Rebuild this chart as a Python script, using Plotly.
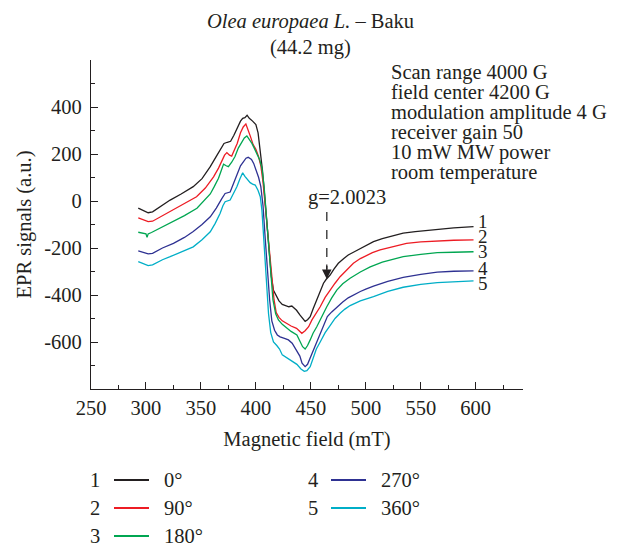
import plotly.graph_objects as go

# EPR spectra of Olea europaea L. (Baku) at 5 sample rotation angles

field_1 = [293, 297, 302, 306, 313, 322, 332, 343, 351, 358.5, 364, 367.5, 371, 374, 377, 380, 383, 386, 388, 390, 392,
           394, 397, 400, 402, 404, 406, 408, 410, 412, 414, 416, 418, 421, 424, 427, 430, 432.7, 435, 437, 440, 443,
           444.8, 447, 449.4, 452, 455.2, 458, 461.5, 464, 467.5, 471, 475, 480, 484, 490, 495, 500, 507, 515, 525,
           534, 545, 555, 565, 580, 598]
epr_1 = [-30, -38, -50, -46, -25, 4, 30, 61, 95, 146, 190, 220, 245, 250, 254, 280, 310, 340, 352, 355, 365,
         352, 340, 325, 290, 220, 130, 20, -100, -220, -320, -380, -400, -425, -440, -446, -450, -447, -455, -465, -485, -500,
         -512, -505, -492, -460, -421, -385, -350, -333, -315, -290, -265, -245, -230, -215, -203, -190, -173, -160, -148,
         -137, -130, -125, -120, -114, -109]

field_2 = [293, 297, 302, 306, 315, 325, 335, 346, 354, 361.5, 366, 369, 371.5, 373.6, 376, 378, 380.5, 383, 386, 388.5,
           390.9, 393, 395, 397.5, 400, 402.4, 404.5, 406.5, 408.5, 410.5, 412.5, 414.5, 416.5, 418.5, 421, 424, 428, 432,
           437, 440, 441.8, 444.8, 448, 451, 455, 458.5, 463, 467.5, 472, 476.6, 481, 485.7, 488.7, 495, 500, 506, 513,
           525, 537, 550, 567.5, 580, 598]
epr_2 = [-72, -80, -88, -86, -62, -38, -10, 18, 55, 103, 140, 167, 195, 206, 195, 191, 215, 245, 290, 315,
         328, 305, 275, 240, 220, 190, 150, 80, -20, -120, -230, -330, -420, -475, -495, -510, -522, -532,
         -542, -555, -563, -552, -535, -506, -478, -450, -410, -379, -350, -322, -300, -279, -265, -245, -232, -220, -208,
         -194, -180, -174, -169, -167, -165]

field_3 = [293, 297, 300, 301, 302, 305, 315, 325, 335, 346.4, 353, 358.5, 362, 366, 368.5, 370.6, 373, 375, 378, 381,
           384, 387, 389.5, 391.8, 394, 396.4, 398.5, 401, 403.5, 405.5, 407.5, 409.5, 411.5, 413.5, 415.5, 418, 420.5,
           424, 428, 432, 437.3, 440, 442.5, 444.8, 447, 449.4, 452, 455.4, 460, 464.5, 469, 473.6, 479, 485.7, 495,
           504, 515, 525, 534, 550, 565, 580, 598]
epr_3 = [-133, -138, -140, -155, -140, -134, -110, -88, -62, -31, 0, 30, 60, 97, 130, 157, 150, 146, 165, 189,
         225, 252, 268, 277, 262, 245, 225, 203, 175, 140, 60, -60, -190, -320, -420, -480, -506,
         -525, -542, -555, -570, -595, -620, -630, -615, -591, -563, -535, -490, -450, -412, -379, -352, -329, -302,
         -280, -260, -247, -237, -227, -220, -218, -216]

field_4 = [293, 297, 302, 306, 315, 325, 335, 343, 351, 358.5, 364, 369, 372, 376.6, 379.5, 382.7, 386, 388.7, 391, 393,
           396, 398, 400, 402.5, 404.5, 406.5, 408.5, 410.5, 412.5, 414.5, 417, 419.5, 422, 426, 429.6, 433, 437, 440,
           442, 444.8, 447, 449.4, 452, 455.4, 459, 463, 465, 469, 473.6, 479, 484, 488.7, 495, 500, 507, 520, 534,
           550, 565, 580, 598]
epr_4 = [-212, -218, -225, -223, -200, -180, -155, -130, -100, -67, -30, 10, 32, 38, 70, 111, 150, 167, 182, 186,
         177, 160, 132, 100, 61, -20, -160, -300, -420, -510, -550, -570, -578, -585, -591, -605, -635, -660,
         -690, -705, -695, -668, -640, -600, -560, -520, -492, -472, -452, -430, -412, -400, -385, -375, -362, -342, -325,
         -312, -303, -299, -297]

field_5 = [293, 297, 302, 306, 315, 322, 333, 343, 351, 358.5, 363, 367.5, 370, 372, 376.6, 379.5, 382.7, 385.5, 388,
           390, 391.5, 394.8, 397, 399.4, 402, 404, 405.5, 407.5, 409.5, 411.5, 413.5, 416, 419, 421.5, 424, 428, 432,
           437.3, 441, 444, 446.4, 449.4, 452, 455, 458.5, 463, 467.5, 472, 476.6, 481, 485.7, 495, 507, 520, 534, 550,
           565, 580, 598]
epr_5 = [-258, -265, -275, -272, -250, -237, -215, -195, -165, -131, -95, -52, -20, -3, 4, 30, 61, 95, 120,
         105, 95, 78, 72, 68, 45, 18, -40, -200, -350, -480, -560, -600, -615, -630, -655, -668, -680,
         -695, -715, -725, -722, -705, -670, -630, -600, -560, -530, -500, -478, -460, -445, -425, -407, -385, -367, -355,
         -347, -343, -340]

curve_ids = ["1", "2", "3", "4", "5"]
angles = ["0°", "90°", "180°", "270°", "360°"]
colors = ["#231f20", "#ed1c24", "#00a651", "#2e3192", "#00aec7"]
fields = [field_1, field_2, field_3, field_4, field_5]
signals = [epr_1, epr_2, epr_3, epr_4, epr_5]

x_ticks = [250, 300, 350, 400, 450, 500, 550, 600]
y_ticks = [-600, -400, -200, 0, 200, 400]
y_tick_text = ["-600", "-400", "-200", "0", "200", "400"]

params = ["Scan range 4000 G", "field center 4200 G", "modulation amplitude 4 G",
          "receiver gain 50", "10 mW MW power", "room temperature"]

FONT = "Liberation Serif"
FS = 20.5
INK = "#231f20"

# the page puts the figure 8px in from the corner, so the figure is 8px smaller
PAGE = 8
W, H = 627 - PAGE, 547 - PAGE
# plot area in screenshot pixels: x 91..523, y 60..389
L, R, T, B = 91, 523, 60, 389


def px_to_paper(px, py):
    return (px - L) / (R - L), (B - py) / (B - T)


fig = go.Figure()
for cid, f, s, c in zip(curve_ids, fields, signals, colors):
    fig.add_trace(go.Scatter(x=f, y=s, mode="lines", name=cid,
                             line=dict(color=c, width=1.3), showlegend=False))

# curve numbers at the right end
label_y = [-88, -149, -216, -286, -350]
for cid, ly in zip(curve_ids, label_y):
    fig.add_annotation(x=601, y=ly, text=cid, showarrow=False, xanchor="left", yanchor="middle",
                       borderpad=0, font=dict(family=FONT, size=19, color=INK))

# measurement parameters
for i, p in enumerate(params):
    xp, yp = px_to_paper(390, 72 + 20 * i)
    fig.add_annotation(x=xp, y=yp, xref="paper", yref="paper", text=p, showarrow=False,
                       xanchor="left", yanchor="middle", borderpad=0, font=dict(family=FONT, size=FS, color=INK))

# g-factor marker
fig.add_annotation(x=445.5, y=13, text="g=2.0023", showarrow=False, xanchor="left", yanchor="middle",
                   font=dict(family=FONT, size=FS, color=INK))
fig.add_shape(type="line", x0=464.5, x1=464.5, y0=-47, y1=-290, xref="x", yref="y",
              line=dict(color="#3a3a3a", width=1.4, dash="dash"))
fig.add_annotation(x=464.5, y=-332, ax=0, ay=-16, showarrow=True, arrowhead=2, arrowsize=1.6,
                   arrowwidth=1.2, arrowcolor="#231f20", text="")

# title
for txt, py in [("<i>Olea europaea L.</i> – Baku", 22), ("(44.2 mg)", 47)]:
    xp, yp = px_to_paper(310, py)
    fig.add_annotation(x=xp, y=yp, xref="paper", yref="paper", text=txt, showarrow=False,
                       xanchor="center", yanchor="middle", font=dict(family=FONT, size=FS, color=INK))

# legend drawn by hand: "n —— angle"
leg_cols = [(95, 114, 149, 163), (313, 331, 366, 380)]
leg_rows = [480, 508, 536]
for i, (cid, ang, c) in enumerate(zip(curve_ids, angles, colors)):
    col = leg_cols[0] if i < 3 else leg_cols[1]
    row = leg_rows[i if i < 3 else i - 3]
    nx, lx0, lx1, tx = col
    xp, yp = px_to_paper(nx, row)
    fig.add_annotation(x=xp, y=yp, xref="paper", yref="paper", text=cid, showarrow=False,
                       xanchor="center", yanchor="middle", borderpad=0, font=dict(family=FONT, size=FS, color=INK))
    x0p, _ = px_to_paper(lx0, row)
    x1p, _ = px_to_paper(lx1, row)
    fig.add_shape(type="line", x0=x0p, x1=x1p, y0=yp, y1=yp, xref="paper", yref="paper",
                  line=dict(color=c, width=2))
    txp, _ = px_to_paper(tx, row)
    fig.add_annotation(x=txp, y=yp, xref="paper", yref="paper", text=ang, showarrow=False,
                       xanchor="left", yanchor="middle", borderpad=0, font=dict(family=FONT, size=FS, color=INK))

axis_common = dict(showline=True, linewidth=1.3, linecolor=INK, showgrid=False, zeroline=False,
                   ticks="inside", ticklen=7, tickwidth=1.2, tickcolor=INK,
                   tickfont=dict(family=FONT, size=FS, color=INK))

fig.update_xaxes(range=[250, 643], tickvals=x_ticks, minor=dict(ticks="inside", ticklen=4, dtick=25, tick0=250,
                                                                 tickcolor=INK, tickwidth=1.1),
                 title=dict(text="Magnetic field (mT)", standoff=13, font=dict(family=FONT, size=FS, color=INK)),
                 **axis_common)
fig.update_yaxes(range=[-800, 600], tickvals=y_ticks, ticktext=y_tick_text, ticklabelstandoff=4,
                 minor=dict(ticks="inside", ticklen=4, dtick=100, tick0=0, tickcolor=INK, tickwidth=1.1),
                 title=dict(text="EPR signals (a.u.)", standoff=6, font=dict(family=FONT, size=FS, color=INK)),
                 **axis_common)

fig.update_layout(width=W, height=H, autosize=False,
                  margin=dict(l=L - PAGE, r=627 - R, t=T - PAGE, b=547 - B),
                  paper_bgcolor="white", plot_bgcolor="white",
                  font=dict(family=FONT, size=FS, color=INK))

fig.write_html("out.html")
